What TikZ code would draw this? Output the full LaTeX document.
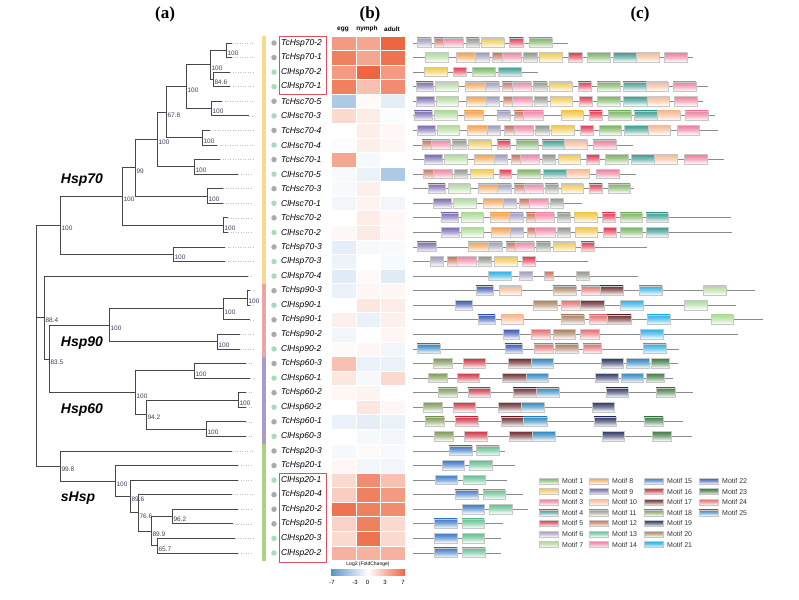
\documentclass[tikz,border=0pt]{standalone}
\usepackage{fontspec}
\setmainfont{Liberation Serif}
\setsansfont{Liberation Sans}
\usetikzlibrary{positioning}

\definecolor{hred}{HTML}{EC6640}
\definecolor{hblue}{HTML}{5B93C8}
\definecolor{tcdot}{HTML}{AAAAAA}
\definecolor{cldot}{HTML}{A6DDB8}
\definecolor{bar70}{HTML}{F6D98E}
\definecolor{bar90}{HTML}{F0A3A3}
\definecolor{bar60}{HTML}{A99BCF}
\definecolor{barsh}{HTML}{A9D281}
\definecolor{boxred}{HTML}{D9505E}
\definecolor{bstext}{HTML}{3D3D5C}
\definecolor{m1}{HTML}{79B45F}
\definecolor{m2}{HTML}{F2C84B}
\definecolor{m3}{HTML}{EC7D9A}
\definecolor{m4}{HTML}{3B9B8F}
\definecolor{m5}{HTML}{E5374F}
\definecolor{m6}{HTML}{9D9BBB}
\definecolor{m7}{HTML}{AEDB9A}
\definecolor{m8}{HTML}{F3A24E}
\definecolor{m9}{HTML}{7A6AAE}
\definecolor{m10}{HTML}{F7B893}
\definecolor{m11}{HTML}{8F978A}
\definecolor{m12}{HTML}{C9725C}
\definecolor{m13}{HTML}{5EC08F}
\definecolor{m14}{HTML}{EE86A6}
\definecolor{m15}{HTML}{3A78C6}
\definecolor{m16}{HTML}{CF3242}
\definecolor{m17}{HTML}{6B2A2C}
\definecolor{m18}{HTML}{7D9855}
\definecolor{m19}{HTML}{2B3463}
\definecolor{m20}{HTML}{A87E5F}
\definecolor{m21}{HTML}{2AAFE4}
\definecolor{m22}{HTML}{3A55B5}
\definecolor{m23}{HTML}{3E7A43}
\definecolor{m24}{HTML}{E26F6F}
\definecolor{m25}{HTML}{2E86BE}

\tikzset{
  branch/.style={draw=black!72,line width=0.9pt},
  elbow/.style={to path={|- (\tikztotarget)}},
  leafdot/.style={draw=black!25,dotted,line width=0.5pt},
  bs/.style={anchor=north west,inner sep=0.6pt,xshift=0.8pt,text=bstext,font=\sffamily\fontsize{6.5}{6.5}\selectfont},
  gene/.style={inner sep=0pt,font=\sffamily\itshape\fontsize{8.5}{8.5}\selectfont},
  dotc/.style={circle,fill=#1dot,inner sep=0pt,minimum size=5.5pt},
  grp/.style={font=\sffamily\bfseries\itshape\fontsize{14}{14}\selectfont},
  panel/.style={font=\bfseries\fontsize{17}{17}\selectfont},
  stage/.style={font=\sffamily\bfseries\fontsize{6.5}{6.5}\selectfont},
  hbox/.style={draw=boxred,line width=0.9pt},
  prot/.style={draw=black!45,line width=0.8pt},
  motif/.style={top color=#1,bottom color=white,middle color=#1!60,draw=black!22,line width=0.3pt},
  leg/.style={anchor=west,inner sep=0pt,font=\sffamily\fontsize{7}{7}\selectfont,text=black!80}
}

\begin{document}
\begin{tikzpicture}[x=1pt,y=-1pt]
\useasboundingbox (0,0) rectangle (799,599);

% panel titles
\node[panel] (pa) at (165,14) {(a)};
\node[panel] (pb) at (370,14) {(b)};
\node[panel] (pc) at (640,14) {(c)};
\node[stage] (se) at (343,29) {egg};
\node[stage] (sn) at (367,29) {nymph};
\node[stage] (sa) at (392,29) {adult};

% family bars
\fill[bar70] (262,35.7) rectangle (265.5,284);
\fill[bar90] (262,284) rectangle (265.5,357);
\fill[bar60] (262,357) rectangle (265.5,443.5);
\fill[barsh] (262,443.5) rectangle (265.5,560.5);

% genes: leaves, dots, names, heatmap
\foreach \i/\gname/\sp/\xs/\ve/\vn/\va in {
  0/TcHsp70-2/tc/232/4/3.5/6, 1/TcHsp70-1/tc/232/5/3.5/5.5,
  2/ClHsp70-2/cl/230/4/6/4, 3/ClHsp70-1/cl/230/5/2.5/4.5,
  4/TcHsc70-5/tc/222/-3/0.2/-1, 5/ClHsc70-3/cl/249/1.5/0.8/-0.2,
  6/TcHsc70-4/tc/210/0/0.7/0.3, 7/ClHsc70-4/cl/217/-0.2/0.7/0.4,
  8/TcHsc70-1/tc/220/3.5/-0.4/0, 9/ClHsc70-5/cl/238/-0.3/-0.8/-3,
  10/TcHsc70-3/tc/223/-0.3/0.6/0, 11/ClHsc70-1/cl/223/-0.5/0.5/-0.5,
  12/TcHsc70-2/tc/228/0/0.8/0.3, 13/ClHsc70-2/cl/228/0.3/0.9/0.3,
  14/TcHsp70-3/tc/225/-1/-0.4/-0.3, 15/ClHsp70-3/cl/225/-0.7/0/-0.3,
  16/ClHsp70-4/cl/248/-1.2/0.2/-1.2, 17/TcHsp90-3/tc/250/-0.8/0.4/0.4,
  18/ClHsp90-1/cl/250/0/1/0.8, 19/TcHsp90-1/tc/250/0.6/-0.8/0.6,
  20/TcHsp90-2/tc/240/-0.5/0/0.4, 21/ClHsp90-2/cl/240/0.2/0.4/-0.5,
  22/TcHsp60-3/tc/246/2.5/-0.8/-0.8, 23/ClHsp60-1/cl/250/1/-0.4/1.5,
  24/TcHsp60-2/tc/246/0.3/0.5/0, 25/ClHsp60-2/cl/246/0/1/0.4,
  26/TcHsp60-1/tc/246/-0.8/-1/-0.8, 27/ClHsp60-3/cl/246/0/-0.4/-0.5,
  28/TcHsp20-3/tc/232/-0.4/0.2/-0.3, 29/TcHsp20-1/tc/238/0.3/-0.5/-0.5,
  30/ClHsp20-1/cl/238/1.5/4.5/2.5, 31/TcHsp20-4/tc/232/2/5/4,
  32/TcHsp20-2/tc/238/5.5/5/4.5, 33/TcHsp20-5/tc/233/1.8/5/1.5,
  34/ClHsp20-3/cl/235/1.5/5.5/1.5, 35/ClHsp20-2/cl/238/3/3/3}{
  \pgfmathsetmacro\yy{43+14.57*\i}
  \coordinate (l\i) at (\xs,\yy);
  \coordinate (d\i) at (253,\yy);
  \draw[leafdot] (l\i) -- (d\i);
  \node[dotc=\sp] (c\i) at (274,\yy) {};
  \node[gene,right=4pt of c\i] (g\i) {\gname};
  \foreach \v [count=\c from 0] in {\ve,\vn,\va}{
    \pgfmathtruncatemacro\pct{min(100,abs(\v)*100/6)}
    \ifdim\v pt<0pt \def\hc{hblue}\else\def\hc{hred}\fi
    \fill[\hc!\pct!white,draw=white,line width=0.3pt]
      ({331+24.67*\c},{\yy-7.29}) rectangle ({331+24.67*(\c+1)},{\yy+7.29});
  }
}

% highlighted gene groups
\draw[hbox] (279,36) rectangle (326,94);
\draw[hbox] (279,473) rectangle (326,562);

% colour scale
\node[font=\sffamily\fontsize{5}{5}\selectfont] (lfc) at (368,564.5) {Log2 (FoldChange)};
\shade[left color=hblue,right color=hred,middle color=white] (331,569) rectangle (405,575);
\foreach \t/\tx in {-7/332,-3/355,0/367.5,3/385,7/403}
  \node[font=\sffamily\fontsize{6}{6}\selectfont] (tk\t) at (\tx,582) {\t};

% tree: internal nodes
\coordinate (t70a) at (226,50.3);
\coordinate (t70b) at (213,79.4);
\coordinate (t70c) at (210,64.9);
\coordinate (hsc5) at (211,108.6);
\coordinate (t70d) at (186,86.7);
\coordinate (hsc4) at (202,137.7);
\coordinate (t70e) at (166,112.2);
\coordinate (hsc1) at (194,166.9);
\coordinate (t70f) at (157,139.5);
\coordinate (hsc3) at (207,196.0);
\coordinate (t70g) at (135,167.8);
\coordinate (hsc2) at (223,225.1);
\coordinate (t70h) at (122,196.4);
\coordinate (h70c) at (173,254.3);
\coordinate (hsp70) at (60,225.4);
\coordinate (h90a) at (247,298.0);
\coordinate (h90b) at (223,308.9);
\coordinate (h90c) at (217,341.7);
\coordinate (hsp90) at (109,325.3);
\coordinate (h60a) at (194,370.8);
\coordinate (h60b) at (238,400.0);
\coordinate (h60c) at (206,429.1);
\coordinate (h60d) at (146,414.6);
\coordinate (hsp60) at (135,392.7);
\coordinate (n835) at (49,359.0);
\coordinate (n884) at (44,317.6);
\coordinate (s962) at (172,516.5);
\coordinate (s657) at (157,545.7);
\coordinate (s899) at (151,531.1);
\coordinate (s766) at (138,512.9);
\coordinate (s896) at (130,496.5);
\coordinate (s100) at (115,481.0);
\coordinate (shsp) at (60,466.0);
\coordinate (root) at (36,345.7);

\path[branch]
  (t70a) edge[elbow] (l0) edge[elbow] (l1)
  (t70b) edge[elbow] (l2) edge[elbow] (l3)
  (t70c) edge[elbow] (t70a) edge[elbow] (t70b)
  (hsc5) edge[elbow] (l4) edge[elbow] (l5)
  (t70d) edge[elbow] (t70c) edge[elbow] (hsc5)
  (hsc4) edge[elbow] (l6) edge[elbow] (l7)
  (t70e) edge[elbow] (t70d) edge[elbow] (hsc4)
  (hsc1) edge[elbow] (l8) edge[elbow] (l9)
  (t70f) edge[elbow] (t70e) edge[elbow] (hsc1)
  (hsc3) edge[elbow] (l10) edge[elbow] (l11)
  (t70g) edge[elbow] (t70f) edge[elbow] (hsc3)
  (hsc2) edge[elbow] (l12) edge[elbow] (l13)
  (t70h) edge[elbow] (t70g) edge[elbow] (hsc2)
  (h70c) edge[elbow] (l14) edge[elbow] (l15)
  (hsp70) edge[elbow] (t70h) edge[elbow] (h70c)
  (h90a) edge[elbow] (l17) edge[elbow] (l18)
  (h90b) edge[elbow] (h90a) edge[elbow] (l19)
  (h90c) edge[elbow] (l20) edge[elbow] (l21)
  (hsp90) edge[elbow] (h90b) edge[elbow] (h90c)
  (h60a) edge[elbow] (l22) edge[elbow] (l23)
  (h60b) edge[elbow] (l24) edge[elbow] (l25)
  (h60c) edge[elbow] (l26) edge[elbow] (l27)
  (h60d) edge[elbow] (h60b) edge[elbow] (h60c)
  (hsp60) edge[elbow] (h60a) edge[elbow] (h60d)
  (n835) edge[elbow] (hsp90) edge[elbow] (hsp60)
  (n884) edge[elbow] (l16) edge[elbow] (n835)
  (s962) edge[elbow] (l32) edge[elbow] (l33)
  (s657) edge[elbow] (l34) edge[elbow] (l35)
  (s899) edge[elbow] (s962) edge[elbow] (s657)
  (s766) edge[elbow] (l31) edge[elbow] (s899)
  (s896) edge[elbow] (l30) edge[elbow] (s766)
  (s100) edge[elbow] (l29) edge[elbow] (s896)
  (shsp) edge[elbow] (l28) edge[elbow] (s100)
  (root) edge[elbow] (hsp70) edge[elbow] (n884) edge[elbow] (shsp);

% bootstrap values
\foreach \nd/\bv in {t70a/100,t70b/84.6,t70c/100,hsc5/100,t70d/100,hsc4/100,
    t70e/67.8,hsc1/100,t70f/100,hsc3/100,t70g/99,hsc2/100,t70h/100,h70c/100,
    hsp70/100,h90a/100,h90b/100,h90c/100,hsp90/100,h60a/100,h60b/100,h60c/100,
    h60d/94.2,hsp60/100,n835/83.5,n884/88.4,s962/96.2,s657/65.7,s899/89.9,
    s766/76.6,s896/89.6,s100/100,shsp/99.8}
  \node[bs] (b-\nd) at (\nd) {\bv};

% family names
\node[grp] (f70) at (82,180) {Hsp70};
\node[grp] (f90) at (82,343) {Hsp90};
\node[grp] (f60) at (82,410) {Hsp60};
\node[grp] (fsh) at (78,498) {sHsp};

% conserved motifs
\foreach \r/\xe/\bl in {
  0/568/{417/431/6,434/443/12,443/463/14,466/479/11,481/504/2,509/523/5,529/552/1},
  1/693/{425/448/7,456/475/8,475/489/6,492/502/12,502/521/14,523/537/11,539/562/2,568/582/5,587/610/1,613/636/4,636/659/10,664/687/3},
  2/538/{424/447/2,453/466/5,472/495/1,498/521/4},
  3/708/{416/433/9,435/458/7,465/485/8,485/499/6,502/512/12,512/531/14,533/547/11,549/572/2,578/591/5,597/620/1,623/646/4,646/668/10,673/696/3},
  4/703/{416/434/9,436/458/7,466/486/8,486/499/6,503/512/12,512/532/14,534/547/11,550/572/2,579/592/5,597/620/1,623/647/4,647/669/10,674/697/3},
  5/715/{414/432/9,434/457/7,464/483/8,497/510/6,514/523/12,523/543/14,561/583/2,589/602/5,608/631/1,634/657/4,657/680/10,685/708/3},
  6/718/{417/435/9,437/459/7,467/487/8,487/500/6,504/514/12,514/533/14,535/549/11,551/574/2,580/593/5,599/621/1,624/648/4,648/670/10,677/699/3},
  7/633/{422/431/12,431/450/14,452/466/11,468/491/2,497/510/5,516/538/1,542/564/4,564/587/10,593/616/3},
  8/724/{424/442/9,444/467/7,474/494/8,494/507/6,511/520/12,520/539/14,542/555/11,558/580/2,586/599/5,605/628/1,631/654/4,654/677/10,684/707/3},
  9/636/{423/433/12,433/452/14,454/467/11,470/493/2,499/511/5,517/540/1,543/566/4,566/589/10,596/619/3},
  10/634/{428/445/9,448/470/7,478/497/8,497/511/6,514/524/12,524/543/14,545/558/11,561/583/2,589/602/5,608/630/1},
  11/582/{433/451/9,453/476/7,483/503/8,503/516/6,519/529/12,529/548/14,550/563/11},
  12/731/{441/458/9,461/483/7,490/509/8,509/523/6,526/535/12,535/554/14,557/570/11,574/597/2,602/615/5,620/642/1,646/668/4},
  13/732/{441/459/9,461/483/7,491/510/8,510/523/6,527/535/12,535/555/14,557/570/11,575/597/2,603/616/5,620/642/1,646/668/4},
  14/647/{417/436/9,468/488/8,488/502/6,506/515/12,515/534/14,536/550/11,553/575/2,581/594/5},
  15/588/{430/443/6,447/457/12,457/476/14,478/491/11,494/517/2,522/535/5},
  16/638/{488/511/21,519/532/6,544/553/12,576/589/11},
  17/755/{476/493/22,499/521/10,553/576/20,581/600/24,600/623/17,639/662/21,703/726/7},
  18/736/{455/472/22,533/557/20,561/580/24,580/604/17,620/643/21,684/707/7},
  19/763/{478/495/22,501/523/10,561/584/20,589/607/24,607/631/17,647/670/21,711/733/7},
  20/738/{503/519/22,531/550/24,553/575/20,580/599/24,640/663/21},
  21/679/{417/440/25,505/522/22,534/553/24,555/578/20,583/601/24,643/666/21},
  22/678/{433/452/18,463/485/16,508/531/17,531/553/25,601/623/19,626/649/25,651/669/23},
  23/673/{428/447/18,457/479/16,502/526/17,526/548/25,595/618/19,621/643/25,646/664/23},
  24/693/{438/457/18,468/490/16,513/536/17,536/559/25,606/628/19,656/675/23},
  25/613/{423/442/18,453/475/16,498/521/17,521/544/25,592/614/19},
  26/683/{425/444/18,455/478/16,501/523/17,523/547/25,594/616/19,644/663/23},
  27/692/{434/453/18,464/487/16,509/532/17,532/555/25,602/624/19,652/671/23},
  28/505/{449/472/15,476/499/13},
  29/515/{442/464/15,469/492/13},
  30/507/{435/457/15,463/485/13},
  31/523/{455/478/15,483/505/13},
  32/528/{462/484/15,489/512/13},
  33/503/{434/457/15,462/484/13},
  34/501/{434/457/15,462/484/13},
  35/501/{434/457/15,462/485/13}}{
  \pgfmathsetmacro\yy{43+14.57*\r}
  \coordinate (ms\r) at (413,\yy);
  \coordinate (me\r) at (\xe,\yy);
  \draw[prot] (ms\r) -- (me\r);
  \foreach \p/\q/\m in \bl
    \shade[motif=m\m] (\p,{\yy-5}) rectangle (\q,{\yy+4.5});
}

% motif legend
\foreach \k in {1,...,25}{
  \pgfmathtruncatemacro\col{(\k-1)/7}
  \pgfmathtruncatemacro\rw{mod(\k-1,7)}
  \pgfmathsetmacro\lx{{539,589,644,699}[\col]}
  \pgfmathsetmacro\ly{481+10.6*\rw}
  \shade[motif=m\k] (\lx,{\ly-3}) rectangle ({\lx+19},{\ly+3});
  \node[leg] (lg\k) at ({\lx+23},\ly) {Motif \k};
}
\end{tikzpicture}
\end{document}
